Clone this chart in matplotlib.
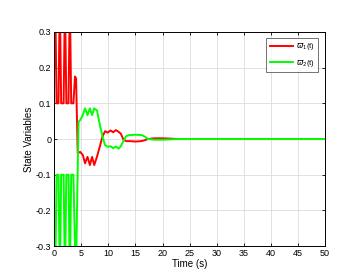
import matplotlib
matplotlib.use("Agg")
import matplotlib.pyplot as plt

# State variable 1 (red)
t_red = [0, 0.2, 0.45, 0.8, 1.05, 1.3, 1.75, 2.0, 2.25, 2.65, 2.9, 3.15, 3.55, 3.85, 4.05,
         4.35, 4.8, 5.3, 5.7, 6.15, 6.6, 7.0, 7.4, 7.9, 8.5, 8.9, 9.4, 9.9, 10.4, 10.9,
         11.4, 11.9, 12.3, 12.8, 13.3, 14.0, 15.0, 16.0, 16.6, 17.3, 18.5, 20.0, 21.5,
         23.0, 25.0, 50.0]
x1 = [0.2, 0.4, 0.1, 0.1, 0.4, 0.1, 0.1, 0.4, 0.1, 0.1, 0.4, 0.1, 0.1, 0.175, 0.17,
      -0.04, -0.036, -0.045, -0.068, -0.05, -0.073, -0.05, -0.073, -0.05, -0.017, 0.006,
      0.022, 0.018, 0.024, 0.019, 0.025, 0.02, 0.015, -0.002, -0.006, -0.006, -0.007,
      -0.006, -0.004, 0.0, 0.002, 0.002, 0.001, 0.0, 0.0, 0.0]

# State variable 2 (green)
t_green = [0, 0.2, 0.45, 0.8, 1.05, 1.3, 1.75, 2.0, 2.25, 2.65, 2.9, 3.15, 3.55, 4.0,
           4.5, 4.8, 5.3, 5.7, 6.15, 6.6, 7.0, 7.4, 7.9, 8.5, 9.0, 9.4, 9.9, 10.4, 10.9,
           11.4, 11.9, 12.3, 12.8, 13.3, 13.8, 15.0, 16.2, 16.8, 17.3, 18.5, 20.0, 21.5,
           23.0, 25.0, 50.0]
x2 = [-0.2, -0.4, -0.1, -0.1, -0.4, -0.1, -0.1, -0.4, -0.1, -0.1, -0.4, -0.1, -0.1, -0.4,
      0.048, 0.053, 0.067, 0.086, 0.067, 0.086, 0.067, 0.086, 0.08, 0.035, 0.002, -0.017,
      -0.022, -0.02, -0.026, -0.021, -0.027, -0.02, -0.005, 0.008, 0.011, 0.012, 0.011,
      0.006, 0.0, -0.002, -0.002, -0.001, 0.0, 0.0, 0.0]

xticks = list(range(0, 51, 5))
yticks = [-0.3, -0.2, -0.1, 0, 0.1, 0.2, 0.3]
ytick_labels = ["-0.3", "-0.2", "-0.1", "0", "0.1", "0.2", "0.3"]

plt.rcParams['font.family'] = ['Liberation Sans', 'DejaVu Sans']
plt.rcParams['mathtext.fontset'] = 'dejavusans'

fig = plt.figure(figsize=(3.47, 2.80), dpi=100)
ax = fig.add_axes([0.156, 0.121, 0.781, 0.765])

ax.plot(t_red, x1, color=(1, 0, 0), lw=1.4, label=r'$\varpi_1$(t)')
ax.plot(t_green, x2, color=(0, 1, 0), lw=1.4, label=r'$\varpi_2$(t)')

ax.set_xlim(0, 50)
ax.set_ylim(-0.3, 0.3)
ax.set_xticks(xticks)
ax.set_xticklabels([str(v) for v in xticks])
ax.set_yticks(yticks)
ax.set_yticklabels(ytick_labels)
ax.tick_params(direction='in', length=2.5, width=0.6, labelsize=6.5, pad=2,
               top=True, right=True)
ax.grid(True, color='#dcdcdc', lw=0.6)
ax.set_axisbelow(True)
for s in ax.spines.values():
    s.set_linewidth(0.7)
ax.set_xlabel('Time (s)', fontsize=7, labelpad=1)
ax.set_ylabel('State Variables', fontsize=7, labelpad=1)

leg = ax.legend(loc='upper right', fontsize=5.5, frameon=True, fancybox=False,
                edgecolor='#333333', handlelength=3.0, handletextpad=0.4,
                borderpad=0.45, labelspacing=0.7, bbox_to_anchor=(0.974, 0.972),
                borderaxespad=0)
leg.get_frame().set_linewidth(0.6)

fig.savefig('out.png', dpi=100)
